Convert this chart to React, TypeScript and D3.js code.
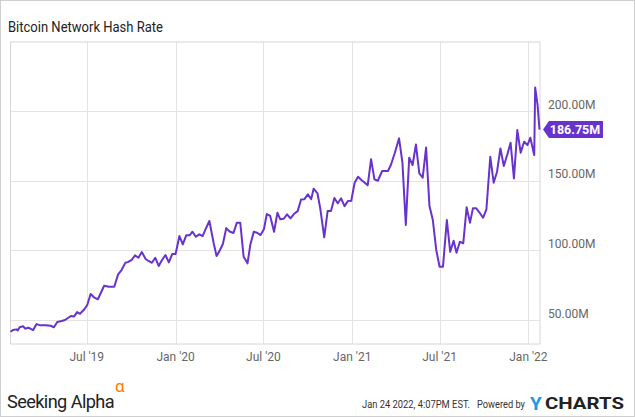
import React from "react";
import * as d3 from "d3";

const dates: string[] = [
  "2019-01-24","2019-01-29","2019-02-05","2019-02-08","2019-02-12","2019-02-19","2019-02-24","2019-03-02","2019-03-06","2019-03-12",
  "2019-03-19","2019-03-27","2019-04-07","2019-04-17","2019-04-24","2019-05-01","2019-05-10","2019-05-17","2019-05-29","2019-06-05",
  "2019-06-11","2019-06-17","2019-06-26","2019-07-02","2019-07-09","2019-07-16","2019-07-24","2019-08-06","2019-08-16","2019-08-27",
  "2019-09-04","2019-09-11","2019-09-19","2019-09-24","2019-10-02","2019-10-09","2019-10-16","2019-10-23","2019-10-31","2019-11-06",
  "2019-11-13","2019-11-20","2019-11-27","2019-12-04","2019-12-11","2019-12-18","2019-12-25","2020-01-01","2020-01-09","2020-01-16",
  "2020-01-23","2020-01-30","2020-02-05","2020-02-12","2020-02-19","2020-02-26","2020-03-03","2020-03-11","2020-03-20","2020-03-26",
  "2020-04-02","2020-04-08","2020-04-15","2020-04-22","2020-04-30","2020-05-07","2020-05-14","2020-05-21","2020-05-29","2020-06-04",
  "2020-06-11","2020-06-18","2020-06-25","2020-07-02","2020-07-08","2020-07-15","2020-07-23","2020-07-30","2020-08-05","2020-08-12",
  "2020-08-19","2020-08-26","2020-09-02","2020-09-10","2020-09-17","2020-09-24","2020-10-01","2020-10-08","2020-10-13","2020-10-21",
  "2020-10-27","2020-11-04","2020-11-11","2020-11-18","2020-11-25","2020-12-02","2020-12-09","2020-12-16","2020-12-23","2020-12-30",
  "2021-01-06","2021-01-13","2021-01-20","2021-01-27","2021-02-02","2021-02-09","2021-02-16","2021-02-23","2021-03-04","2021-03-16",
  "2021-03-22","2021-03-30","2021-04-08","2021-04-15","2021-04-22","2021-04-29","2021-05-06","2021-05-13","2021-05-20","2021-05-27",
  "2021-06-03","2021-06-10","2021-06-17","2021-06-24","2021-07-01","2021-07-08","2021-07-16","2021-07-23","2021-07-30","2021-08-05",
  "2021-08-12","2021-08-19","2021-08-26","2021-09-02","2021-09-08","2021-09-15","2021-09-22","2021-09-29","2021-10-06","2021-10-14",
  "2021-10-21","2021-10-28","2021-11-04","2021-11-11","2021-11-18","2021-11-25","2021-12-02","2021-12-09","2021-12-16","2021-12-23",
  "2021-12-30","2022-01-05","2022-01-13","2022-01-15","2022-01-20","2022-01-24"
];

const hashRate: number[] = [
  41.6,42.8,43.3,42.6,44.8,45.5,43.8,44.5,43.8,42.8,
  47.1,46.2,46.2,45.9,44.8,48.6,49.3,50.0,52.9,52.6,
  55.7,54.5,57.7,60.8,68.7,66.3,64.9,74.6,73.9,73.9,
  82.8,85.9,91.1,91.6,93.1,96.4,94.7,98.8,93.8,92.4,
  91.1,94.7,88.8,93.1,96.7,91.4,97.4,97.4,110.3,104.3,
  110.8,110.8,113.4,109.8,111.5,110.3,115.1,121.1,105.1,95.9,
  100.3,104.6,116.0,113.6,112.5,119.9,119.9,95.4,90.7,104.3,
  113.4,112.7,111.0,115.1,126.1,124.7,113.4,127.0,122.3,122.7,
  125.9,123.0,126.1,128.2,136.6,136.8,140.2,136.8,144.3,141.0,
  129.5,109.4,128.2,128.2,137.6,133.8,137.4,131.8,135.4,135.6,
  148.6,152.9,150.5,148.6,146.7,165.4,151.0,150.0,157.0,157.0,
  161.3,169.7,180.4,163.0,118.2,166.5,161.3,176.0,155.3,152.2,
  173.8,131.8,121.8,100.3,88.3,88.3,121.8,99.0,106.9,98.3,
  106.2,105.1,130.9,119.9,130.2,130.2,127.0,123.4,129.5,167.2,
  148.6,156.5,173.2,160.6,168.5,177.3,151.7,186.4,170.1,178.0,
  175.6,180.9,168.5,217.0,204.3,186.75
];

const yTicks: number[] = [50, 100, 150, 200];
const xTickDates: string[] = ["2019-07-01", "2020-01-01", "2020-07-01", "2021-01-01", "2021-07-01", "2022-01-01"];
const xTickLabels: string[] = ["Jul '19", "Jan '20", "Jul '20", "Jan '21", "Jul '21", "Jan '22"];

const W = 635;
const H = 417;
const L = 10.5, R = 540, T = 42, B = 344;
const FONT = "Roboto, 'Noto Sans', sans-serif";
const PURPLE = "#6733cc";

export default function App() {
  const parse = d3.timeParse("%Y-%m-%d");
  const data = dates.map((d, i) => ({ date: parse(d) as Date, value: hashRate[i] }));
  const x = d3.scaleTime()
    .domain([parse("2019-01-24") as Date, parse("2022-01-25") as Date])
    .range([L, R]);
  const y = d3.scaleLinear().domain([32.8, 249.6]).range([B, T]);
  const line = d3.line<{ date: Date; value: number }>()
    .x(d => x(d.date))
    .y(d => y(d.value));
  const last = data[data.length - 1];
  const ly = y(last.value);

  return (
    <svg width={W} height={H} style={{ position: "absolute", left: 0, top: 0, background: "#fff" }}
      fontFamily={FONT}>
      <rect x={0.5} y={0.5} width={W - 1} height={H - 1} fill="#fff" stroke="#cfcfcf" />
      <text x={8} y={32} fontSize={14} fill="#222" textLength={155} lengthAdjust="spacingAndGlyphs">Bitcoin Network Hash Rate</text>

      {yTicks.map(t => (
        <line key={"gy" + t} x1={L} x2={R} y1={Math.round(y(t)) + 0.5} y2={Math.round(y(t)) + 0.5} stroke="#e3e3e3" />
      ))}
      {xTickDates.map(d => {
        const xx = Math.round(x(parse(d) as Date)) + 0.5;
        return <line key={"gx" + d} x1={xx} x2={xx} y1={T} y2={B} stroke="#e3e3e3" />;
      })}
      <rect x={L} y={T} width={R - L} height={B - T} fill="none" stroke="#d6d6d6" />

      <path d={line(data) || ""} fill="none" stroke={PURPLE} strokeWidth={2} strokeLinejoin="round" />

      {yTicks.map(t => (
        <text key={"ly" + t} x={548} y={y(t) - 2.5} fontSize={12} fill="#666">{t.toFixed(2) + "M"}</text>
      ))}
      {xTickDates.map((d, i) => (
        <text key={"lx" + d} x={x(parse(d) as Date)} y={361} fontSize={12} fill="#666" textAnchor="middle">{xTickLabels[i]}</text>
      ))}

      <path d={`M${R + 3},${ly} L${R + 9},${ly - 8.5} L${603},${ly - 8.5} L${603},${ly + 8.5} L${R + 9},${ly + 8.5} Z`} fill={PURPLE} />
      <text x={575} y={ly + 4.5} fontSize={12.5} fontWeight="bold" fill="#fff" textAnchor="middle">{last.value.toFixed(2) + "M"}</text>

      <text x={7} y={408} fontSize={18} fill="#222" letterSpacing={-0.6} textLength={107} lengthAdjust="spacingAndGlyphs">Seeking Alpha</text>
      <text x={115} y={392} fontSize={17} fill="#ff7a00">α</text>
      <text x={362} y={408} fontSize={10} fill="#333" textLength={108} lengthAdjust="spacingAndGlyphs">Jan 24 2022, 4:07PM EST.</text>
      <text x={477} y={408} fontSize={10} fill="#333" textLength={48} lengthAdjust="spacingAndGlyphs">Powered by</text>
      <text x={530} y={410} fontSize={19} fontWeight="bold" fill="#1a9be0">Y</text>
      <text x={545} y={409} fontSize={16.5} fontWeight="bold" fill="#222" textLength={79} lengthAdjust="spacingAndGlyphs">CHARTS</text>
    </svg>
  );
}
